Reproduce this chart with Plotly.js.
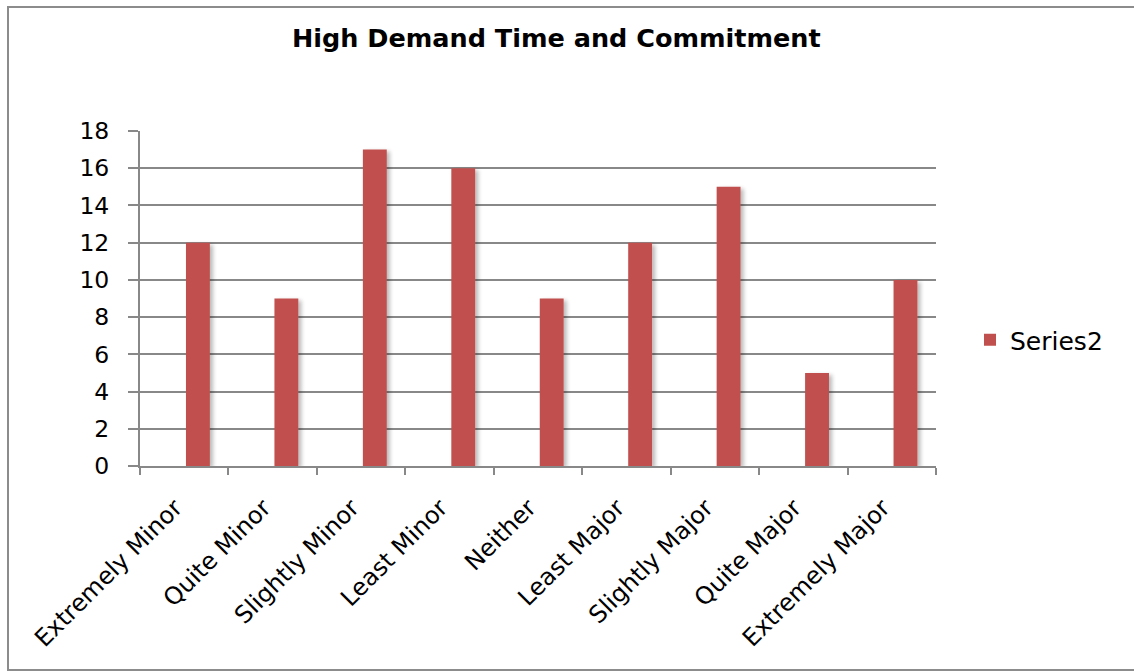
<!DOCTYPE html>
<html>
<head>
<meta charset="utf-8">
<script src="https://cdn.plot.ly/plotly-3.0.1.min.js"></script>
<style>
  html, body { margin: 0; padding: 0; background: #fff; }
  #chart { width: 1134px; height: 671px; }
  #chart .bars .point path { filter: url(#barShadow); }
</style>
</head>
<body>
<svg width="0" height="0" style="position:absolute">
  <defs>
    <filter id="barShadow" x="-50%" y="-10%" width="200%" height="130%">
      <feGaussianBlur in="SourceAlpha" stdDeviation="2"/>
      <feOffset dx="3" dy="2" result="blur"/>
      <feComponentTransfer><feFuncA type="linear" slope="0.28"/></feComponentTransfer>
      <feMerge><feMergeNode/><feMergeNode in="SourceGraphic"/></feMerge>
    </filter>
  </defs>
</svg>
<div id="chart"></div>
<script>
// Response categories along the x axis
const categories = [
  "Extremely Minor", "Quite Minor", "Slightly Minor", "Least Minor", "Neither",
  "Least Major", "Slightly Major", "Quite Major", "Extremely Major"
];
// Counts for each category
const series2 = [12, 9, 17, 16, 9, 12, 15, 5, 10];
const yTicks = [0, 2, 4, 6, 8, 10, 12, 14, 16, 18];

const axisGray = "#888888";
const font = "DejaVu Sans, Verdana, sans-serif";

const trace = {
  type: "bar",
  name: "Series2",
  x: categories,
  y: series2,
  width: 0.27,
  offset: 0.02,
  marker: { color: "#C0504D", line: { width: 0 } },
  showlegend: true,
  hoverinfo: "x+y"
};

const layout = {
  width: 1134,
  height: 671,
  margin: { l: 140, r: 198, t: 131, b: 205 },
  paper_bgcolor: "#ffffff",
  plot_bgcolor: "#ffffff",
  showlegend: true,
  title: {
    text: "<b>High Demand Time and Commitment</b>",
    font: { family: font, size: 25.5, color: "#000" },
    x: 0.523, xref: "paper", xanchor: "center",
    y: 1 - 38 / 671, yref: "container", yanchor: "middle"
  },
  xaxis: {
    type: "category",
    tickangle: -45,
    tickson: "boundaries",
    ticks: "outside",
    ticklen: 7,
    tickwidth: 2,
    tickcolor: axisGray,
    showline: true,
    linecolor: axisGray,
    linewidth: 2,
    showgrid: false,
    ticklabelstandoff: 16,
    ticklabelshift: -9,
    tickfont: { family: font, size: 24, color: "#000" }
  },
  yaxis: {
    range: [0, 18],
    tickvals: yTicks,
    ticktext: yTicks.map(String),
    ticks: "outside",
    ticklen: 10,
    tickwidth: 2,
    tickcolor: axisGray,
    showline: true,
    linecolor: axisGray,
    linewidth: 2,
    showgrid: true,
    gridcolor: axisGray,
    gridwidth: 2,
    zeroline: false,
    ticklabelstandoff: 14,
    tickfont: { family: font, size: 23.5, color: "#000" }
  },
  legend: {
    xref: "container", yref: "container",
    x: 970 / 1134, xanchor: "left",
    y: 1 - 340 / 671, yanchor: "middle",
    font: { family: font, size: 25, color: "#000" },
    bgcolor: "rgba(0,0,0,0)"
  },
  shapes: [{
    type: "rect", xref: "paper", yref: "paper",
    x0: (8 - 140) / 796, x1: (1150 - 140) / 796,
    y0: (466 - 670) / 335, y1: (466 - 7) / 335,
    line: { color: "#8c8c8c", width: 2 },
    fillcolor: "rgba(0,0,0,0)",
    layer: "below"
  }]
};

Plotly.newPlot("chart", [trace], layout, { displayModeBar: false, staticPlot: true });
</script>
</body>
</html>
